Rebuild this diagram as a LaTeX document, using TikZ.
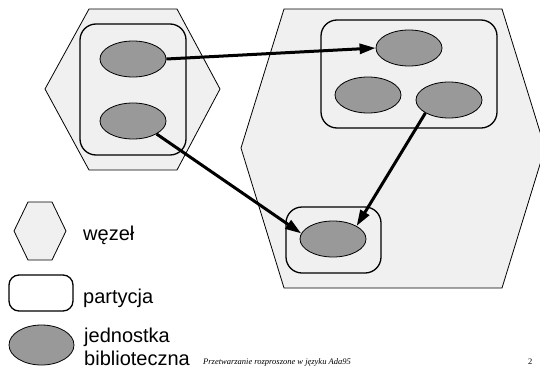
\documentclass[tikz,border=0pt]{standalone}
\usepackage{fontspec}
\setmainfont{Liberation Sans}
\newfontfamily\footerfont{Liberation Serif}
\usepackage{xcolor}
\definecolor{hostgray}{RGB}{240,240,240}
\definecolor{unitgray}{RGB}{153,153,153}
\usepackage{tikz}
\usetikzlibrary{arrows.meta}
\usetikzlibrary{shapes.geometric}
\newcommand{\widthunit}{66pt}
\newcommand{\heightunit}{36pt}
\tikzset{
    host/.style={draw, fill=hostgray, line width=0.8pt, line join=miter},
    partition/.style={draw, rectangle, rounded corners=16pt, line width=1.3pt, inner sep=0pt},
    unit/.style={draw, ellipse, fill=unitgray, line width=0.8pt, inner sep=0pt,
        minimum width=\widthunit, minimum height=\heightunit},
    link/.style={-{Triangle[length=16pt, width=10pt]}, line width=3pt},
    legend/.style={anchor=base west, inner sep=0pt, align=left, font=\fontsize{20}{23}\selectfont},
    footer/.style={anchor=base west, inner sep=0pt, font=\footerfont\fontsize{8.5}{10}\selectfont}
}

\begin{document}
\begin{tikzpicture}[x=1pt, y=-1pt]
      \useasboundingbox (0,0) rectangle (540,367);
      \clip (0,0) rectangle (540,367);

      \draw[host] (89,9) -- (177,9) -- (220,89) -- (177,170) -- (89,170) -- (45,89) -- cycle;
      \draw[host] (284,9) -- (502,9) -- (545,148) -- (502,288) -- (284,288) -- (241,148) -- cycle;

      \path
          (133,89.5) node[partition, minimum width=106pt, minimum height=131pt] (p-a) {}
          (409,74) node[partition, minimum width=176pt, minimum height=108pt] (p-b) {}
          (333.5,240) node[partition, minimum width=95pt, minimum height=66pt] (p-c) {};

      \path
          (133,59) node[unit] (u-a1) {}
          (133,121) node[unit] (u-a2) {}
          (409,48) node[unit] (u-b1) {}
          (368,95) node[unit] (u-b2) {}
          (449,100) node[unit] (u-b3) {}
          (333,239) node[unit] (u-c1) {};

      \draw[link] (u-a1.east) -- (u-b1.west);
      \draw[link] (u-a2.south east) -- (u-c1.170);
      \draw[link] (u-b3.south west) -- (u-c1.north east);

      \draw[host] (28,202) -- (52,202) -- (66,231) -- (52,260) -- (28,260) -- (14,231) -- cycle;
      \path
          (41,293) node[partition, rounded corners=10pt, minimum width=64pt, minimum height=36pt] (key-partition) {}
          (41.5,345) node[unit, minimum width=65pt, minimum height=40pt] (key-unit) {};

      \path
          (83,240) node[legend] (key-host-text) {węzeł}
          (83,303) node[legend] (key-partition-text) {partycja}
          (84,365) node[legend] (key-unit-text) {jednostka\\biblioteczna};

      \path
          (203,364) node[footer] (footer-title) {\itshape Przetwarzanie rozproszone w języku Ada95}
          (528,364) node[footer] (footer-page) {2};
\end{tikzpicture}
\end{document}
